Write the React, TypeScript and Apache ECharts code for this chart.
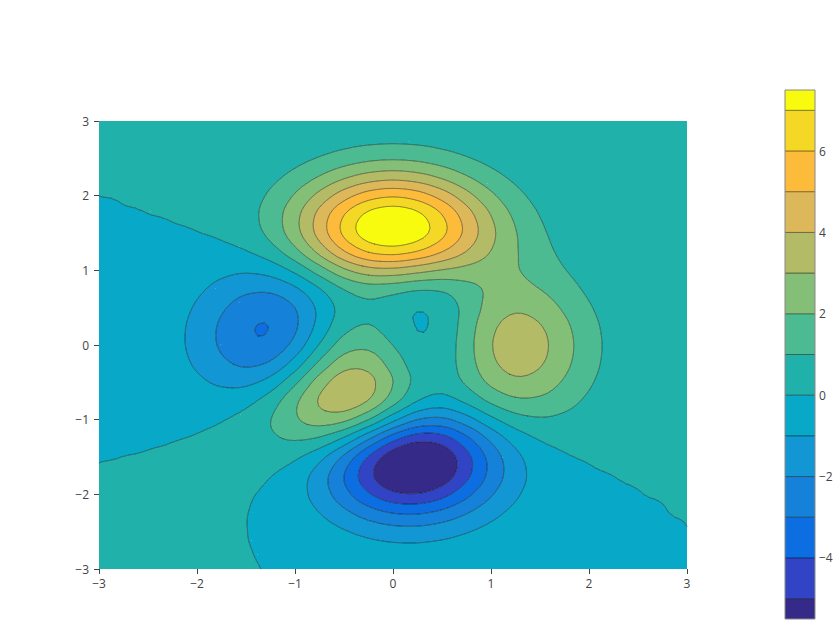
import React, { useEffect, useRef } from "react";
import * as echarts from "echarts";

// grid coordinates of the sampled surface
const xCoords = [-3, -2.75, -2.5, -2.25, -2, -1.75, -1.5, -1.25, -1, -0.75, -0.5, -0.25, 0, 0.25, 0.5, 0.75, 1, 1.25, 1.5, 1.75, 2, 2.25, 2.5, 2.75, 3];
const yCoords = [-3, -2.75, -2.5, -2.25, -2, -1.75, -1.5, -1.25, -1, -0.75, -0.5, -0.25, 0, 0.25, 0.5, 0.75, 1, 1.25, 1.5, 1.75, 2, 2.25, 2.5, 2.75, 3];

// z values, one row per y (x from -3 to 3)
const zY_m300 = [0.00007, 0.0002, 0.0007, 0.0017, 0.0034, 0.0051, 0.0042, -0.005, -0.03, -0.075, -0.137, -0.201, -0.245, -0.253, -0.223, -0.169, -0.11, -0.062, -0.03, -0.012, -0.0043, -0.0013, -0.0003, -0.00006, -0.00001];
const zY_m275 = [0.00016, 0.0005, 0.0016, 0.0038, 0.0074, 0.0101, 0.0045, -0.024, -0.096, -0.222, -0.391, -0.561, -0.677, -0.693, -0.609, -0.46, -0.299, -0.168, -0.081, -0.033, -0.0117, -0.0034, -0.0008, -0.00015, -0.000015];
const zY_m250 = [0.0003, 0.0011, 0.0032, 0.0077, 0.0147, 0.0188, 0.0028, -0.067, -0.235, -0.526, -0.915, -1.307, -1.569, -1.605, -1.406, -1.06, -0.688, -0.384, -0.184, -0.075, -0.026, -0.0075, -0.0017, -0.0003, -0.00001];
const zY_m225 = [0.0005, 0.0019, 0.0058, 0.0141, 0.0272, 0.0357, 0.0074, -0.122, -0.438, -0.994, -1.744, -2.505, -3.022, -3.099, -2.719, -2.048, -1.324, -0.734, -0.348, -0.139, -0.0465, -0.0125, -0.0025, -0.00023, 0.00007];
const zY_m200 = [0.0007, 0.0028, 0.0088, 0.0227, 0.0468, 0.0698, 0.0452, -0.129, -0.592, -1.448, -2.639, -3.884, -4.76, -4.93, -4.347, -3.272, -2.102, -1.149, -0.529, -0.202, -0.0616, -0.0135, -0.0012, 0.0006, 0.0004];
const zY_m175 = [0.0006, 0.0029, 0.0103, 0.03, 0.0703, 0.1271, 0.1532, 0.0232, -0.462, -1.478, -3.004, -4.696, -5.973, -6.326, -5.638, -4.241, -2.687, -1.42, -0.613, -0.204, -0.0442, 0.0007, 0.0063, 0.0037, 0.0014];
const zY_m150 = [-0.0005, 0.0002, 0.0053, 0.0252, 0.0789, 0.1851, 0.3266, 0.3923, 0.148, -0.68, -2.188, -4.075, -5.68, -6.326, -5.762, -4.316, -2.635, -1.271, -0.441, -0.066, 0.0429, 0.0454, 0.0255, 0.0106, 0.0036];
const zY_m125 = [-0.0033, -0.008, -0.0143, -0.0118, 0.0299, 0.1667, 0.4486, 0.8358, 1.107, 0.883, -0.139, -1.845, -3.604, -4.602, -4.4, -3.223, -1.738, -0.556, 0.0792, 0.266, 0.226, 0.1325, 0.0611, 0.0232, 0.0074];
const zY_m100 = [-0.0088, -0.0244, -0.0565, -0.1032, -0.1301, -0.0428, 0.3007, 0.984, 1.856, 2.454, 2.225, 0.997, -0.724, -2.015, -2.222, -1.425, -0.273, 0.581, 0.883, 0.769, 0.5, 0.261, 0.113, 0.0415, 0.013];
const zY_m075 = [-0.0167, -0.0489, -0.122, -0.255, -0.423, -0.51, -0.281, 0.495, 1.783, 3.086, 3.627, 2.942, 1.396, -0.0047, -0.413, 0.204, 1.176, 1.786, 1.778, 1.346, 0.82, 0.414, 0.176, 0.0637, 0.0198];
const zY_m050 = [-0.0256, -0.0771, -0.2, -0.439, -0.799, -1.158, -1.213, -0.596, 0.797, 2.488, 3.551, 3.304, 1.998, 0.7, 0.39, 1.139, 2.198, 2.758, 2.56, 1.875, 1.122, 0.561, 0.237, 0.0855, 0.0265];
const zY_m025 = [-0.033, -0.101, -0.267, -0.602, -1.141, -1.775, -2.163, -1.836, -0.566, 1.228, 2.561, 2.625, 1.585, 0.526, 0.476, 1.496, 2.756, 3.372, 3.088, 2.245, 1.339, 0.667, 0.282, 0.1015, 0.0314];
const zY_000 = [-0.0365, -0.113, -0.301, -0.689, -1.333, -2.143, -2.774, -2.712, -1.652, 0.0636, 1.48, 1.753, 0.981, 0.19, 0.374, 1.573, 2.937, 3.582, 3.269, 2.372, 1.412, 0.703, 0.297, 0.107, 0.0331];
const zY_p025 = [-0.0351, -0.109, -0.292, -0.674, -1.319, -2.157, -2.873, -2.979, -2.149, -0.647, 0.682, 1.057, 0.523, -0.0281, 0.279, 1.468, 2.762, 3.362, 3.062, 2.218, 1.319, 0.657, 0.277, 0.0998, 0.0309];
const zY_p050 = [-0.0295, -0.0916, -0.247, -0.571, -1.123, -1.849, -2.492, -2.638, -1.997, -0.76, 0.39, 0.796, 0.464, 0.0898, 0.375, 1.344, 2.377, 2.834, 2.558, 1.844, 1.094, 0.544, 0.229, 0.0825, 0.0256];
const zY_p075 = [-0.0216, -0.0671, -0.18, -0.416, -0.815, -1.33, -1.76, -1.78, -1.163, -0.0458, 1.04, 1.552, 1.423, 1.121, 1.171, 1.649, 2.171, 2.318, 1.993, 1.402, 0.82, 0.405, 0.17, 0.0608, 0.0188];
const zY_p100 = [-0.0137, -0.0421, -0.112, -0.254, -0.481, -0.74, -0.864, -0.599, 0.229, 1.507, 2.794, 3.585, 3.689, 3.34, 2.934, 2.662, 2.434, 2.084, 1.581, 1.035, 0.58, 0.279, 0.115, 0.0407, 0.0125];
const zY_p125 = [-0.0073, -0.0219, -0.0558, -0.118, -0.197, -0.225, -0.047, 0.547, 1.694, 3.288, 4.92, 6.065, 6.39, 5.937, 5.019, 3.967, 2.969, 2.089, 1.354, 0.791, 0.409, 0.186, 0.0736, 0.0254, 0.0076];
const zY_p150 = [-0.0031, -0.0085, -0.0189, -0.0293, -0.0121, 0.109, 0.478, 1.275, 2.608, 4.374, 6.196, 7.541, 7.997, 7.481, 6.251, 4.722, 3.254, 2.054, 1.185, 0.621, 0.293, 0.124, 0.0463, 0.0152, 0.0044];
const zY_p175 = [-0.0009, -0.0017, -0.0004, 0.013, 0.07, 0.241, 0.646, 1.429, 2.673, 4.29, 5.96, 7.22, 7.672, 7.194, 5.986, 4.446, 2.961, 1.776, 0.961, 0.469, 0.206, 0.081, 0.0285, 0.0089, 0.0025];
const zY_p200 = [0.00001, 0.0008, 0.0053, 0.0232, 0.0797, 0.228, 0.554, 1.158, 2.097, 3.306, 4.557, 5.509, 5.859, 5.499, 4.568, 3.368, 2.21, 1.294, 0.677, 0.317, 0.133, 0.0498, 0.0167, 0.005, 0.0013];
const zY_p225 = [0.0002, 0.0011, 0.005, 0.0183, 0.0573, 0.155, 0.363, 0.741, 1.322, 2.068, 2.84, 3.43, 3.649, 3.426, 2.844, 2.089, 1.361, 0.788, 0.405, 0.186, 0.0757, 0.0275, 0.0089, 0.0026, 0.0007];
const zY_p250 = [0.0002, 0.0007, 0.003, 0.0105, 0.0316, 0.0833, 0.192, 0.388, 0.687, 1.071, 1.467, 1.771, 1.885, 1.77, 1.469, 1.077, 0.699, 0.402, 0.205, 0.0927, 0.0372, 0.0133, 0.0042, 0.0012, 0.0003];
const zY_p275 = [0.0001, 0.0004, 0.0014, 0.0048, 0.0142, 0.0369, 0.0843, 0.169, 0.299, 0.464, 0.636, 0.767, 0.817, 0.767, 0.636, 0.466, 0.302, 0.173, 0.0878, 0.0394, 0.0157, 0.0055, 0.0017, 0.0005, 0.0001];
const zY_p300 = [0.00003, 0.0001, 0.0005, 0.0018, 0.0053, 0.0137, 0.0312, 0.0624, 0.11, 0.171, 0.233, 0.282, 0.3, 0.282, 0.234, 0.171, 0.111, 0.0633, 0.032, 0.0143, 0.0057, 0.002, 0.0006, 0.0002, 0.00004];

const zGrid = [
  zY_m300, zY_m275, zY_m250, zY_m225, zY_m200, zY_m175, zY_m150, zY_m125, zY_m100,
  zY_m075, zY_m050, zY_m025, zY_000, zY_p025, zY_p050, zY_p075, zY_p100, zY_p125,
  zY_p150, zY_p175, zY_p200, zY_p225, zY_p250, zY_p275, zY_p300,
];

const contourLevels = [-5, -4, -3, -2, -1, 0, 1, 2, 3, 4, 5, 6, 7];
const colorbarMin = -5.5;
const colorbarMax = 7.5;
const colorbarTickValues = [-4, -2, 0, 2, 4, 6];

// colours of the 14 bands, lowest first
const bandColors = [
  "#352a87", "#3244c6", "#0c6ee0", "#1581d8", "#1296d4", "#07a8c8", "#20b2aa",
  "#4cbb91", "#84bf77", "#b4bb67", "#ddb85a", "#fdbb3c", "#f5d826", "#f9fb0e",
];

const FONT = '"Open Sans", verdana, arial, sans-serif';
const LINE_COLOR = "rgba(0,0,0,0.5)";
const SUBDIV = 4; // rendering subdivision of each data cell (smooth surface)

type P3 = [number, number, number];

function minusFmt(v: number) {
  return v < 0 ? "\u2212" + Math.abs(v) : String(v);
}

function bandOf(z: number) {
  let k = 0;
  while (k < contourLevels.length && z >= contourLevels[k]) k++;
  return k;
}

// Catmull-Rom spline through the data samples (rendering smoothness only)
function cr(p0: number, p1: number, p2: number, p3: number, t: number) {
  return 0.5 * (2 * p1 + (-p0 + p2) * t + (2 * p0 - 5 * p1 + 4 * p2 - p3) * t * t + (-p0 + 3 * p1 - 3 * p2 + p3) * t * t * t);
}

type Geometry = { bands: number[][][][]; lines: number[][][][] };
let geomCache: Geometry | null = null;

function clipPoly(poly: P3[], level: number, keepAbove: boolean): P3[] {
  const out: P3[] = [];
  for (let k = 0; k < poly.length; k++) {
    const P = poly[k];
    const Q = poly[(k + 1) % poly.length];
    const pin = keepAbove ? P[2] >= level : P[2] <= level;
    const qin = keepAbove ? Q[2] >= level : Q[2] <= level;
    if (pin) out.push(P);
    if (pin !== qin) {
      const t = (level - P[2]) / (Q[2] - P[2]);
      out.push([P[0] + t * (Q[0] - P[0]), P[1] + t * (Q[1] - P[1]), level]);
    }
  }
  return out;
}

function chainSegments(segs: number[][][]): number[][][] {
  const key = (p: number[]) => Math.round(p[0] * 1e6) + "," + Math.round(p[1] * 1e6);
  const map = new Map<string, number[]>();
  segs.forEach((s, idx) => {
    for (const p of s) {
      const k = key(p);
      const arr = map.get(k);
      if (arr) arr.push(idx);
      else map.set(k, [idx]);
    }
  });
  const used = new Array(segs.length).fill(false);
  const lines: number[][][] = [];
  for (let s0 = 0; s0 < segs.length; s0++) {
    if (used[s0]) continue;
    used[s0] = true;
    const fwd: number[][] = [segs[s0][1]];
    const back: number[][] = [segs[s0][0]];
    const grow = (arr: number[][]) => {
      for (;;) {
        const tip = arr[arr.length - 1];
        const tk = key(tip);
        const cands = map.get(tk) || [];
        let next = -1;
        for (const c of cands) {
          if (!used[c]) {
            next = c;
            break;
          }
        }
        if (next < 0) break;
        used[next] = true;
        const s = segs[next];
        arr.push(key(s[0]) === tk ? s[1] : s[0]);
      }
    };
    grow(fwd);
    grow(back);
    lines.push(back.reverse().concat(fwd));
  }
  return lines;
}

function getGeometry(): Geometry {
  if (geomCache) return geomCache;
  const nx = xCoords.length;
  const ny = yCoords.length;
  const NX = (nx - 1) * SUBDIV + 1;
  const NY = (ny - 1) * SUBDIV + 1;
  const clampX = (k: number) => Math.max(0, Math.min(nx - 1, k));
  const clampY = (k: number) => Math.max(0, Math.min(ny - 1, k));

  const xs: number[] = [];
  const xi: number[] = [];
  const xt: number[] = [];
  for (let I = 0; I < NX; I++) {
    const i = Math.min(Math.floor(I / SUBDIV), nx - 2);
    const t = I / SUBDIV - i;
    xi.push(i);
    xt.push(t);
    xs.push(xCoords[i] + t * (xCoords[i + 1] - xCoords[i]));
  }
  const ys: number[] = [];
  const yj: number[] = [];
  const yt: number[] = [];
  for (let J = 0; J < NY; J++) {
    const j = Math.min(Math.floor(J / SUBDIV), ny - 2);
    const t = J / SUBDIV - j;
    yj.push(j);
    yt.push(t);
    ys.push(yCoords[j] + t * (yCoords[j + 1] - yCoords[j]));
  }
  const rowsX = zGrid.map((row) =>
    xs.map((_, I) => {
      const i = xi[I];
      return cr(row[clampX(i - 1)], row[i], row[i + 1], row[clampX(i + 2)], xt[I]);
    })
  );
  const z: number[][] = ys.map((_, J) => {
    const j = yj[J];
    const t = yt[J];
    return xs.map((__, I) => cr(rowsX[clampY(j - 1)][I], rowsX[j][I], rowsX[j + 1][I], rowsX[clampY(j + 2)][I], t));
  });

  const bands: number[][][][] = bandColors.map(() => []);
  const segs: number[][][][] = contourLevels.map(() => []);

  for (let J = 0; J < NY - 1; J++) {
    let runBand = -1;
    let runStart = 0;
    const y0 = ys[J];
    const y1 = ys[J + 1];
    const flush = (endX: number) => {
      if (runBand >= 0) {
        bands[runBand].push([[runStart, y0], [endX, y0], [endX, y1], [runStart, y1]]);
      }
      runBand = -1;
    };
    for (let I = 0; I < NX - 1; I++) {
      const x0 = xs[I];
      const x1 = xs[I + 1];
      const c: P3[] = [
        [x0, y0, z[J][I]],
        [x1, y0, z[J][I + 1]],
        [x1, y1, z[J + 1][I + 1]],
        [x0, y1, z[J + 1][I]],
      ];
      const bs = c.map((p) => bandOf(p[2]));
      const minB = Math.min(...bs);
      const maxB = Math.max(...bs);
      if (minB === maxB) {
        if (runBand !== minB) {
          flush(x0);
          runBand = minB;
          runStart = x0;
        }
        continue;
      }
      flush(x0);
      const m: P3 = [(x0 + x1) / 2, (y0 + y1) / 2, (c[0][2] + c[1][2] + c[2][2] + c[3][2]) / 4];
      const tris: P3[][] = [
        [c[0], c[1], m],
        [c[1], c[2], m],
        [c[2], c[3], m],
        [c[3], c[0], m],
      ];
      for (let b = minB; b <= maxB; b++) {
        const lo = b === 0 ? -Infinity : contourLevels[b - 1];
        const hi = b === contourLevels.length ? Infinity : contourLevels[b];
        for (const tri of tris) {
          let poly: P3[] = tri;
          if (isFinite(lo)) poly = clipPoly(poly, lo, true);
          if (poly.length >= 3 && isFinite(hi)) poly = clipPoly(poly, hi, false);
          if (poly.length >= 3) bands[b].push(poly.map((p) => [p[0], p[1]]));
        }
      }
      for (let k = minB; k < maxB; k++) {
        const L = contourLevels[k];
        for (const tri of tris) {
          const pts: number[][] = [];
          for (let e = 0; e < 3; e++) {
            // canonical edge order so shared edges give identical points
            let P = tri[e];
            let Q = tri[(e + 1) % 3];
            if (P[0] > Q[0] || (P[0] === Q[0] && P[1] > Q[1])) {
              const tmp = P;
              P = Q;
              Q = tmp;
            }
            if ((P[2] >= L) !== (Q[2] >= L)) {
              const t = (L - P[2]) / (Q[2] - P[2]);
              pts.push([P[0] + t * (Q[0] - P[0]), P[1] + t * (Q[1] - P[1])]);
            }
          }
          if (pts.length === 2) segs[k].push(pts);
        }
      }
    }
    flush(xs[NX - 1]);
  }
  geomCache = { bands, lines: segs.map(chainSegments) };
  return geomCache;
}

function polysToPath(polys: number[][][], api: any, close: boolean) {
  let s = "";
  for (const poly of polys) {
    for (let k = 0; k < poly.length; k++) {
      const q = api.coord(poly[k]);
      s += (k ? "L" : "M") + q[0].toFixed(2) + " " + q[1].toFixed(2);
    }
    if (close) s += "Z";
  }
  return s;
}

const axisLabelStyle = { color: "#444", fontSize: 12, fontFamily: FONT };
const hiddenAxisLine = { show: true, onZero: false, lineStyle: { color: "rgba(0,0,0,0)" } };

const option: any = {
  animation: false,
  backgroundColor: "#fff",
  textStyle: { fontFamily: FONT },
  grid: [
    { left: 99, top: 121, width: 588, height: 448, containLabel: false },
    { left: 785, top: 90, width: 30, height: 529, containLabel: false },
  ],
  xAxis: [
    {
      gridIndex: 0,
      type: "value",
      min: -3,
      max: 3,
      interval: 1,
      axisLine: hiddenAxisLine,
      axisTick: { show: true, length: 5, lineStyle: { color: "#444", width: 1 } },
      splitLine: { show: false },
      axisLabel: { ...axisLabelStyle, margin: 8, formatter: minusFmt },
    },
    { gridIndex: 1, type: "value", min: 0, max: 1, show: false },
  ],
  yAxis: [
    {
      gridIndex: 0,
      type: "value",
      min: -3,
      max: 3,
      interval: 1,
      axisLine: hiddenAxisLine,
      axisTick: { show: true, length: 5, lineStyle: { color: "#444", width: 1 } },
      splitLine: { show: false },
      axisLabel: { ...axisLabelStyle, margin: 10, formatter: minusFmt },
    },
    {
      gridIndex: 1,
      type: "value",
      position: "right",
      min: colorbarMin,
      max: colorbarMax,
      axisLine: { show: false, onZero: false },
      axisTick: { show: false },
      splitLine: { show: false },
      axisLabel: { ...axisLabelStyle, margin: 4, customValues: colorbarTickValues, formatter: minusFmt },
    },
  ],
  series: [
    {
      type: "custom",
      name: "fill",
      xAxisIndex: 0,
      yAxisIndex: 0,
      silent: true,
      data: bandColors.map((_, b) => [b, b]),
      renderItem: (params: any, api: any) => {
        const b = params.dataIndex;
        const polys = getGeometry().bands[b];
        if (!polys.length) return { type: "group", children: [] };
        return {
          type: "path",
          shape: { pathData: polysToPath(polys, api, true) },
          style: { fill: bandColors[b], stroke: null, lineWidth: 0 },
        };
      },
    },
    {
      type: "custom",
      name: "lines",
      xAxisIndex: 0,
      yAxisIndex: 0,
      silent: true,
      data: contourLevels.map((l) => [l, l]),
      renderItem: (params: any, api: any) => {
        const lines = getGeometry().lines[params.dataIndex];
        if (!lines.length) return { type: "group", children: [] };
        return {
          type: "path",
          shape: { pathData: polysToPath(lines, api, false) },
          style: { fill: "none", stroke: LINE_COLOR, lineWidth: 0.9, lineCap: "round", lineJoin: "round" },
        };
      },
    },
    {
      type: "custom",
      name: "colorbar",
      xAxisIndex: 1,
      yAxisIndex: 1,
      silent: true,
      data: bandColors.map((_, b) => [
        b === 0 ? colorbarMin : contourLevels[b - 1],
        b === contourLevels.length ? colorbarMax : contourLevels[b],
      ]),
      renderItem: (params: any, api: any) => {
        const p1 = api.coord([0, api.value(1)]);
        const p2 = api.coord([1, api.value(0)]);
        return {
          type: "rect",
          shape: { x: p1[0], y: p1[1], width: p2[0] - p1[0], height: p2[1] - p1[1] },
          style: { fill: bandColors[params.dataIndex] },
        };
      },
    },
    {
      type: "custom",
      name: "colorbarLines",
      xAxisIndex: 1,
      yAxisIndex: 1,
      silent: true,
      data: contourLevels.map((l) => [l, l]),
      renderItem: (params: any, api: any) => {
        const L = api.value(0);
        const p1 = api.coord([0, L]);
        const p2 = api.coord([1, L]);
        return {
          type: "line",
          shape: { x1: p1[0], y1: p1[1], x2: p2[0], y2: p2[1] },
          style: { stroke: LINE_COLOR, lineWidth: 1 },
        };
      },
    },
    {
      type: "custom",
      name: "colorbarFrame",
      xAxisIndex: 1,
      yAxisIndex: 1,
      silent: true,
      data: [[colorbarMin, colorbarMax]],
      renderItem: (params: any, api: any) => {
        const p1 = api.coord([0, api.value(1)]);
        const p2 = api.coord([1, api.value(0)]);
        return {
          type: "rect",
          shape: { x: p1[0], y: p1[1], width: p2[0] - p1[0], height: p2[1] - p1[1] },
          style: { fill: "none", stroke: "#888", lineWidth: 1 },
        };
      },
    },
  ],
};

export default function App() {
  const ref = useRef<HTMLDivElement>(null);
  useEffect(() => {
    if (!ref.current) return;
    const chart = echarts.init(ref.current, undefined, { renderer: "svg", width: 840, height: 630 });
    chart.setOption(option);
    return () => chart.dispose();
  }, []);
  return (
    <div
      ref={ref}
      style={{ position: "fixed", left: 0, top: 0, width: 840, height: 630, background: "#fff" }}
    />
  );
}
